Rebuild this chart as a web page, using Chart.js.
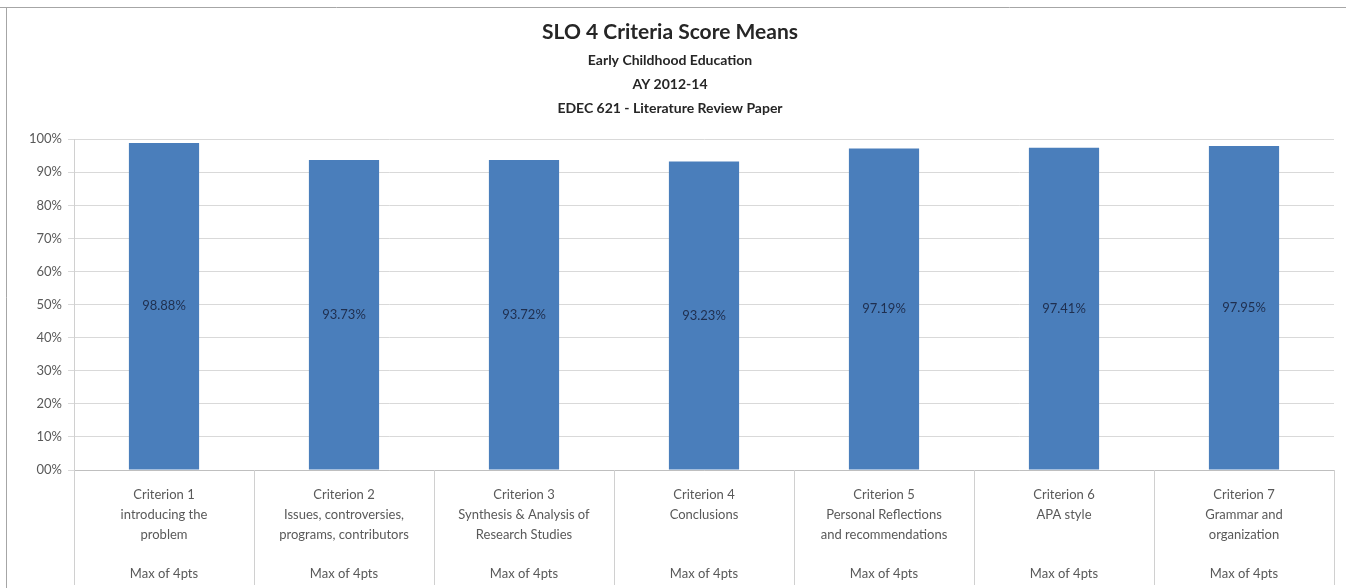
<!DOCTYPE html>
<html>
<head>
<meta charset="utf-8">
<style>
  html, body { margin: 0; padding: 0; background: #fff; }
  #wrap { width: 1346px; height: 588px; }
</style>
<script src="https://cdn.jsdelivr.net/npm/chart.js@4.4.1/dist/chart.umd.min.js"></script>
</head>
<body>
<div id="wrap"><canvas id="chart" width="1346" height="588"></canvas></div>
<script>
// Data
const categories = [
    ["Criterion 1", "introducing the", "problem", "", "Max of 4pts"],
    ["Criterion 2", "Issues, controversies,", "programs, contributors", "", "Max of 4pts"],
    ["Criterion 3", "Synthesis & Analysis of", "Research Studies", "", "Max of 4pts"],
    ["Criterion 4", "Conclusions", "", "", "Max of 4pts"],
    ["Criterion 5", "Personal Reflections", "and recommendations", "", "Max of 4pts"],
    ["Criterion 6", "APA style", "", "", "Max of 4pts"],
    ["Criterion 7", "Grammar and", "organization", "", "Max of 4pts"]
];
const scoreMeans = [98.88, 93.73, 93.72, 93.23, 97.19, 97.41, 97.95];
const titleText = "SLO 4 Criteria Score Means";
const subtitleLines = ["Early Childhood Education", "AY 2012-14", "EDEC 621 - Literature Review Paper"];

const FONT = "Lato, 'Open Sans', sans-serif";

// white bg + outer frame
const framePlugin = {
    id: 'frame',
    beforeDraw(chart) {
        const c = chart.ctx;
        c.save();
        c.fillStyle = '#fff';
        c.fillRect(0, 0, chart.width, chart.height);
        c.strokeStyle = '#a6a6a6';
        c.lineWidth = 1;
        c.beginPath();
        c.moveTo(0, 7.5); c.lineTo(chart.width, 7.5);
        c.moveTo(6.5, 7.5); c.lineTo(6.5, chart.height);
        c.stroke();
        c.restore();
    }
};

// table lines between category labels
const separatorPlugin = {
    id: 'separators',
    afterDraw(chart) {
        const x = chart.scales.x, area = chart.chartArea, c = chart.ctx;
        const step = (x.right - x.left) / categories.length;
        c.save();
        c.strokeStyle = '#d0d0d0';
        c.lineWidth = 1;
        c.beginPath();
        for (let i = 0; i <= categories.length; i++) {
            const px = Math.round(x.left + i * step) + 0.5;
            c.moveTo(px, area.bottom);
            c.lineTo(px, chart.height - 3);
        }
        c.stroke();
        c.restore();
    }
};

// value labels in middle of bars
const valueLabelPlugin = {
    id: 'valueLabels',
    afterDatasetsDraw(chart) {
        const c = chart.ctx;
        c.save();
        c.font = "13px " + FONT;
        c.fillStyle = '#1f2f4f';
        c.textAlign = 'center';
        c.textBaseline = 'middle';
        chart.getDatasetMeta(0).data.forEach((bar, i) => {
            c.fillText(scoreMeans[i].toFixed(2) + '%', bar.x, (bar.y + bar.base) / 2);
        });
        c.restore();
    }
};

new Chart(document.getElementById('chart'), {
    type: 'bar',
    data: {
        labels: categories,
        datasets: [{
            data: scoreMeans,
            backgroundColor: '#4a7ebb',
            borderWidth: 0,
            barPercentage: 0.39,
            categoryPercentage: 1
        }]
    },
    options: {
        responsive: false,
        animation: false,
        devicePixelRatio: 1,
        layout: { padding: { top: 8, left: 6, right: 12, bottom: 3 } },
        plugins: {
            legend: { display: false },
            tooltip: { enabled: false },
            title: {
                display: true,
                text: titleText,
                color: '#262626',
                font: { family: FONT, size: 21, weight: 'bold' },
                padding: { top: 12, bottom: 3 }
            },
            subtitle: {
                display: true,
                text: subtitleLines,
                color: '#262626',
                font: { family: FONT, size: 14, weight: 'bold', lineHeight: '24px' },
                padding: { top: 0, bottom: 19 }
            }
        },
        scales: {
            y: {
                min: 0, max: 100,
                afterFit: s => { s.width = 68; },
                ticks: {
                    stepSize: 10,
                    color: '#595959',
                    font: { family: FONT, size: 13 },
                    padding: 6,
                    callback: v => (v === 0 ? '00' : v) + '%'
                },
                grid: { color: '#d9d9d9', tickLength: 6 },
                border: { color: '#d0d0d0' }
            },
            x: {
                afterFit: s => { s.height = 115; },
                ticks: {
                    autoSkip: false,
                    maxRotation: 0,
                    color: '#595959',
                    font: { family: FONT, size: 13, lineHeight: 1.52 },
                    padding: 7
                },
                grid: { display: false },
                border: { color: '#bfbfbf' }
            }
        }
    },
    plugins: [framePlugin, separatorPlugin, valueLabelPlugin]
});
</script>
</body>
</html>
